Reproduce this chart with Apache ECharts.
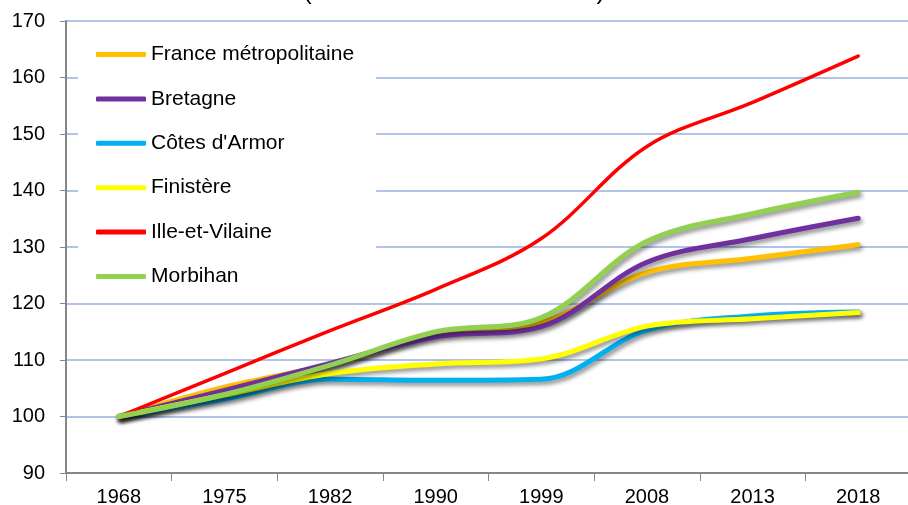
<!DOCTYPE html>
<html>
<head>
<meta charset="utf-8">
<script src="https://cdn.jsdelivr.net/npm/echarts@6/dist/echarts.min.js"></script>
<style>
html,body{margin:0;padding:0;background:#fff;}
#c{width:908px;height:505px;}
</style>
</head>
<body>
<div id="c"></div>
<script>
const years = ['1968','1975','1982','1990','1999','2008','2013','2018'];
const yTicks = [90, 100, 110, 120, 130, 140, 150, 160, 170];
const franceMetro = [100, 105.2, 109.2, 114.6, 116.6, 125.5, 128.0, 130.4];
const bretagne    = [100, 104.6, 109.4, 114.1, 115.9, 127.3, 131.5, 135.1];
const cotesArmor  = [100, 103.1, 106.6, 106.4, 106.6, 115.3, 117.8, 118.5];
const finistere   = [100, 103.8, 107.6, 109.3, 110.2, 116.0, 117.3, 118.4];
const illeVilaine = [100, 107.6, 115.2, 122.5, 131.5, 147.8, 155.6, 163.8];
const morbihan    = [100, 103.9, 109.1, 115.0, 117.5, 131.0, 135.9, 139.7];
const seriesNames = ['France métropolitaine','Bretagne',"Côtes d'Armor",'Finistère','Ille-et-Vilaine','Morbihan'];
const seriesData = [franceMetro, bretagne, cotesArmor, finistere, illeVilaine, morbihan];
const colors = ['#FFC000','#7030A0','#00B0F0','#FFFF00','#FF0000','#92D050'];
const titleText = '(Indice base 100 en 1968)';

const FONT = "'Liberation Sans', Arial, sans-serif";
const chart = echarts.init(document.getElementById('c'), null, {renderer:'canvas'});

const series = seriesNames.map((n, i) => {
  const isRed = n === 'Ille-et-Vilaine';
  return {
    name: n,
    type: 'line',
    data: seriesData[i],
    smooth: 0.35,
    showSymbol: false,
    symbol: 'none',
    color: colors[i],
    lineStyle: {
      color: colors[i],
      width: isRed ? 3.5 : 5,
      cap: 'round',
      shadowColor: isRed ? 'rgba(0,0,0,0)' : 'rgba(0,0,0,0.45)',
      shadowBlur: isRed ? 0 : 4,
      shadowOffsetX: isRed ? 0 : 2,
      shadowOffsetY: isRed ? 0 : 3
    },
    emphasis: {disabled: true},
    animation: false
  };
});

chart.setOption({
  animation: false,
  backgroundColor: '#fff',
  textStyle: {fontFamily: FONT},
  graphic: [{
    type: 'text',
    silent: true,
    style: {
      text: titleText,
      x: 454, y: 5,
      align: 'center',
      verticalAlign: 'bottom',
      font: "26px " + FONT,
      fill: '#000'
    }
  }],
  grid: {left: 66, top: 21, width: 845, bottom: 32, containLabel: false, outerBoundsMode: 'none'},
  legend: {
    orient: 'vertical',
    left: 78,
    top: 36,
    backgroundColor: '#fff',
    padding: [8, 22, 8, 18],
    itemGap: 23.4,
    itemWidth: 50,
    itemHeight: 5,
    icon: 'roundRect',
    itemStyle: {shadowBlur: 0, shadowOffsetX: 0, shadowOffsetY: 0, shadowColor: 'rgba(0,0,0,0)'},
    textStyle: {fontSize: 21, lineHeight: 21, color: '#000', fontFamily: FONT},
    data: seriesNames,
    selectedMode: false
  },
  xAxis: {
    type: 'category',
    data: years,
    boundaryGap: true,
    axisLine: {show: true, lineStyle: {color: '#868686', width: 2}},
    axisTick: {show: true, length: 8, alignWithLabel: false, lineStyle: {color: '#868686', width: 1}},
    axisLabel: {fontSize: 20, color: '#000', margin: 14, fontFamily: FONT},
    splitLine: {show: false}
  },
  yAxis: {
    type: 'value',
    min: yTicks[0],
    max: yTicks[yTicks.length - 1],
    interval: 10,
    axisLine: {show: true, lineStyle: {color: '#868686', width: 2}},
    axisTick: {show: true, length: 6, lineStyle: {color: '#868686', width: 1}},
    axisLabel: {fontSize: 20, color: '#000', margin: 21, fontFamily: FONT},
    splitLine: {show: true, lineStyle: {color: '#B0C4E8', width: 2}}
  },
  series: series
});
</script>
</body>
</html>
